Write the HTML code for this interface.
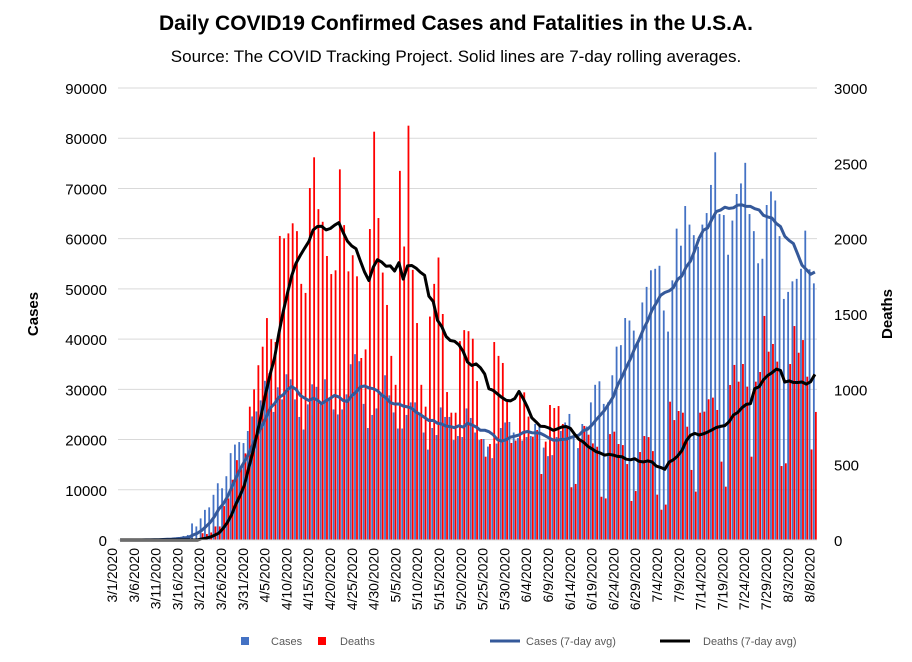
<!DOCTYPE html>
<html><head><meta charset="utf-8"><style>
body{margin:0;background:#fff;}
svg{display:block;font-family:"Liberation Sans",sans-serif;}
</style></head><body>
<svg id="chart" width="912" height="662" viewBox="0 0 912 662">
<rect x="0" y="0" width="912" height="662" fill="#fff"/>
<text x="456" y="30" text-anchor="middle" font-size="21" font-weight="bold" fill="#000">Daily COVID19 Confirmed Cases and Fatalities in the U.S.A.</text>
<text x="456" y="62" text-anchor="middle" font-size="17" fill="#000">Source: The COVID Tracking Project. Solid lines are 7-day rolling averages.</text>
<g id="grid"></g>
<g id="bars"></g>
<g id="lines"></g>
<g id="axes"></g>
<text transform="translate(38,314) rotate(-90)" text-anchor="middle" font-size="15" font-weight="bold" fill="#000">Cases</text>
<text transform="translate(892,314) rotate(-90)" text-anchor="middle" font-size="15" font-weight="bold" fill="#000">Deaths</text>
<g font-size="11" fill="#595959">
<rect x="241" y="637" width="8" height="8" fill="#4472c4"/>
<text x="271" y="645">Cases</text>
<rect x="318" y="637" width="8" height="8" fill="#ff0000"/>
<text x="340" y="645">Deaths</text>
<line x1="490" y1="641" x2="520" y2="641" stroke="#35599a" stroke-width="3"/>
<text x="526" y="645">Cases (7-day avg)</text>
<line x1="660" y1="641" x2="690" y2="641" stroke="#000" stroke-width="3"/>
<text x="703" y="645">Deaths (7-day avg)</text>
</g>
</svg>
<script>
// daily cases (thousands), 3/1/2020 .. 8/10/2020
const casesK = [0,0,0,0,0.02,0.03,0.05,0.08,0.1,0.15,0.2,0.3,0.4,0.5,
0.6,0.8,1,3.3,2.7,
4.3,6,6.5,9,11.3,10.3,
12.7,17.3,19,19.5,19.3,21.7,24.6,25.6,27.8,31.7,
33.2,25.5,30.4,28,33,32,28,24.5,22,27,31,30.5,27,32,28,26,25,26,29,35,37,
35.6,27.1,22.3,24.9,26.2,29.2,32.8,28.8,25.4,22.2,22.2,24.9,27.4,27.4,25.3,21.4,18,22.3,20.9,26.4,24.5,24.5,19.9,20.7,20.5,26.2,24.3,21.4,19.9,20.1,18.6,16.3,19.2,22.3,23.4,23.5,21.4,20.3,19.8,20.5,20.7,23.1,22.9,18.4,16.7,16.9,20.5,21.7,23.4,25.1,20.3,18.3,23.1,22.6,27.4,
30.9,31.6,27.1,27.4,32.8,38.5,38.8,44.2,43.7,41.7,39.2,47.3,50.4,53.7,54,54.6,45.7,41.5,51.7,62,58.6,66.5,62.8,60.7,58.4,62.8,65.1,70.7,77.2,64.9,64.7,56.8,63.6,68.9,71,75.1,64.9,61.5,55.1,56,66.7,69.4,67.6,60.5,48,49.4,51.5,52,54,61.6,53.9,51.1];
// daily deaths
const deaths = [0,0,0,0,0,0,0,0,0,0,0,0,0,0,0,0,0,0,0,
45,40,50,90,90,225,276,400,530,470,575,885,1000,1160,1283,1473,1333,1314,2018,2002,2035,2102,2050,1700,1640,2336,2540,2196,2112,1885,1765,1790,2460,2090,1783,1890,1750,
1208,1265,2064,2710,2137,1775,1560,1222,1030,2450,1948,2750,1793,1440,1030,885,1483,1700,1875,1500,982,845,845,1320,1393,1386,1336,1055,670,553,637,1314,1222,1175,918,644,660,969,980,819,686,730,438,653,896,876,889,770,752,350,372,664,757,699,
641,619,287,276,703,719,637,630,504,259,325,584,690,683,590,301,201,235,918,796,856,845,752,465,321,845,852,934,945,863,520,354,1029,1162,1051,1168,1018,553,1051,1115,1487,1250,1301,1184,491,509,1168,1420,1243,1327,1084,601,850];
const leftTicks = [0,10000,20000,30000,40000,50000,60000,70000,80000,90000];
const rightTicks = [0,500,1000,1500,2000,2500,3000];

const NS = "http://www.w3.org/2000/svg";
const X0 = 118, X1 = 817, Y0 = 540, Y1 = 88;
const N = Math.max(casesK.length, deaths.length);
const slot = (X1 - X0) / N;
const yL = v => Y0 - v / 90000 * (Y0 - Y1);
const yR = v => Y0 - v / 3000 * (Y0 - Y1);
const xC = i => X0 + slot * (i + 0.5);
const xLab = i => 117 + i * 4.36;
function mk(tag, attrs, parent){const e=document.createElementNS(NS,tag);for(const k in attrs)e.setAttribute(k,attrs[k]);parent.appendChild(e);return e;}
const grid=document.getElementById('grid'), bars=document.getElementById('bars'), lines=document.getElementById('lines'), axes=document.getElementById('axes');

leftTicks.forEach(t=>{
  if(t>0){const g=mk('line',{x1:X0,x2:X1,y1:yL(t),y2:yL(t),stroke:'#d9d9d9','stroke-width':1},grid);
  
  }
  const tx=mk('text',{x:107,y:yL(t)+6,'text-anchor':'end','font-size':15,fill:'#000'},axes);
  tx.textContent=t;
  
  
});
rightTicks.forEach(t=>{
  const tx=mk('text',{x:834,y:yR(t)+6,'text-anchor':'start','font-size':15,fill:'#000'},axes);
  tx.textContent=t;
  
  
});
const ax=mk('line',{x1:X0,x2:X1,y1:Y0,y2:Y0,stroke:'#d9d9d9','stroke-width':1},axes);



const bw = slot*0.42;
for(let i=0;i<N;i++){
  const c=(casesK[i]||0)*1000, d=deaths[i]||0;
  const xb=xC(i)-bw-0.1;
  const b=mk('rect',{x:xb,y:yL(c),width:bw,height:Y0-yL(c),fill:'#4472c4'},bars);
  
  
  const r=mk('rect',{x:xC(i)+0.1,y:yR(d),width:bw,height:Y0-yR(d),fill:'#ff0000'},bars);
  
  
}
function avg(arr,i){let s=0,n=0;for(let k=Math.max(0,i-6);k<=i;k++){s+=(arr[k]||0);n++;}return s/n;}
let pc='',pd='';
for(let i=0;i<N;i++){
  pc+=(i?'L':'M')+xC(i).toFixed(1)+','+yL(avg(casesK,i)*1000).toFixed(1);
  pd+=(i?'L':'M')+xC(i).toFixed(1)+','+yR(avg(deaths,i)).toFixed(1);
}
const lc=mk('path',{d:pc,fill:'none',stroke:'#35599a','stroke-width':3,'stroke-linejoin':'round'},lines);


const ld=mk('path',{d:pd,fill:'none',stroke:'#000','stroke-width':3,'stroke-linejoin':'round'},lines);



const start=new Date(2020,2,1);
for(let i=0;i<=160;i+=5){
  const d=new Date(start.getTime()+i*86400000);
  const lab=(d.getMonth()+1)+'/'+d.getDate()+'/2020';
  const x=xLab(i);
  const t=mk('text',{transform:`translate(${x.toFixed(1)},548) rotate(-90)`,'text-anchor':'end','font-size':14,fill:'#000'},axes);
  t.textContent=lab;
  
  
}
</script>
</body></html>
